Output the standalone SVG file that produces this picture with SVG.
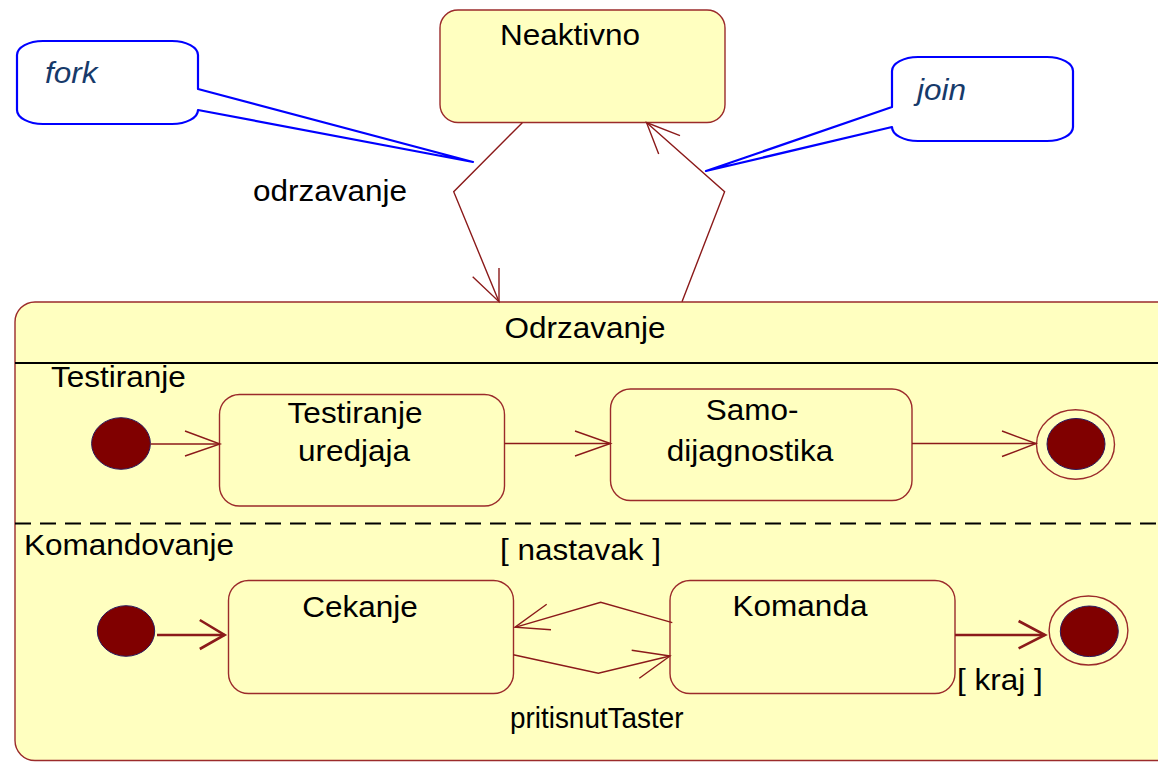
<svg xmlns="http://www.w3.org/2000/svg" width="1158" height="762" viewBox="0 0 1158 762">
<defs>
<style>
.state{fill:#FFFFC0;stroke:#9B2B2B;stroke-width:1.4}
.note{fill:#FFFFFF;stroke:#0000FF;stroke-width:2.2;stroke-linejoin:round}
.t{font-family:"Liberation Sans",Arial,sans-serif;font-size:30px;fill:#000}
.nt{font-family:"Liberation Sans",Arial,sans-serif;font-size:30px;font-style:italic;fill:#173A6A}
.c{fill:none;stroke:#8B1A1A;stroke-width:1.4}
.ck{fill:none;stroke:#8B1A1A;stroke-width:2.6}
.init{fill:#800000;stroke:#2A1A5E;stroke-width:1}
.ring{fill:none;stroke:#9B2B2B;stroke-width:1.4}
</style>
</defs>
<rect width="1158" height="762" fill="#FFFFFF"/>

<g id="Odrzavanje">
<rect class="state" x="15" y="302" width="1175" height="458.5" rx="20" ry="20"/>
<text class="t" transform="translate(585,338) scale(1.05,1)" text-anchor="middle">Odrzavanje</text>
<line x1="15" y1="363" x2="1158" y2="363" stroke="#000" stroke-width="2"/>
<line x1="15" y1="523.5" x2="1158" y2="523.5" stroke="#000" stroke-width="2" stroke-dasharray="16 9"/>
<text class="t" transform="translate(51,387) scale(1.05,1)">Testiranje</text>
<text class="t" transform="translate(24,555) scale(1.05,1)">Komandovanje</text>
</g>

<g id="Neaktivno">
<rect class="state" x="440" y="10" width="285" height="112.5" rx="18" ry="18"/>
<text class="t" transform="translate(570,44.5) scale(1.05,1)" text-anchor="middle">Neaktivno</text>
</g>

<g id="forkNote">
<path class="note" d="M43,41 H172 A26,14 0 0 1 198,55 V89 L473,162 L198,110 A26,14 0 0 1 172,124 H43 A26,14 0 0 1 17,110 V55 A26,14 0 0 1 43,41 Z"/>
<text class="nt" transform="translate(45,83) scale(1.05,1)">fork</text>
</g>

<g id="joinNote">
<path class="note" d="M918,57 H1047 A26,14 0 0 1 1073,71 V127 A26,14 0 0 1 1047,141 H918 A26,14 0 0 1 892,127 L706,171 L892,107 V71 A26,14 0 0 1 918,57 Z"/>
<text class="nt" transform="translate(917,100) scale(1.05,1)">join</text>
</g>

<g id="TestiranjeUredjaja">
<rect class="state" x="219.5" y="394.5" width="285" height="111.5" rx="20" ry="20"/>
<text class="t" transform="translate(355,423) scale(1.05,1)" text-anchor="middle">Testiranje</text>
<text class="t" transform="translate(354,461) scale(1.05,1)" text-anchor="middle">uredjaja</text>
</g>

<g id="Samodijagnostika">
<rect class="state" x="610.5" y="389" width="301.5" height="111.5" rx="20" ry="20"/>
<text class="t" transform="translate(752,420) scale(1.05,1)" text-anchor="middle">Samo-</text>
<text class="t" transform="translate(750,461) scale(1.05,1)" text-anchor="middle">dijagnostika</text>
</g>

<g id="Cekanje">
<rect class="state" x="228.5" y="580.5" width="285" height="113" rx="20" ry="20"/>
<text class="t" transform="translate(360,616.5) scale(1.05,1)" text-anchor="middle">Cekanje</text>
</g>

<g id="Komanda">
<rect class="state" x="670" y="580.5" width="285" height="113" rx="20" ry="20"/>
<text class="t" transform="translate(800,615.5) scale(1.05,1)" text-anchor="middle">Komanda</text>
</g>

<g id="init1"><ellipse class="init" cx="121" cy="443.5" rx="29.4" ry="25.8"/></g>
<g id="final1">
<ellipse class="ring" cx="1075.5" cy="444.5" rx="39" ry="34.7"/>
<ellipse class="init" cx="1076" cy="444" rx="29" ry="25.5"/>
</g>
<g id="init2"><ellipse class="init" cx="126" cy="631" rx="28.7" ry="25.3"/></g>
<g id="final2">
<ellipse class="ring" cx="1088.5" cy="630.5" rx="39.4" ry="34.5"/>
<ellipse class="init" cx="1089.3" cy="631.3" rx="29" ry="25.3"/>
</g>

<g id="connectors">
<polyline class="c" points="522.3,122.7 453.7,191.7 499,301.7"/>
<polyline class="c" points="472.7,276.7 499,301.7 499,268"/>
<polyline class="c" points="682,301.7 724.6,191.7 646.5,122.5"/>
<polyline class="c" points="680,135.7 646.5,122.5 658.7,154"/>
<line class="c" x1="150.6" y1="444" x2="220" y2="444"/>
<polyline class="c" points="185,431 220,444 185,456"/>
<line class="c" x1="504.5" y1="443.5" x2="610.5" y2="443.5"/>
<polyline class="c" points="575,431 610.5,443.5 575,456"/>
<line class="c" x1="912" y1="443.5" x2="1036" y2="443.5"/>
<polyline class="c" points="1002,431 1036,443.5 1002,456.5"/>
<line class="ck" x1="157" y1="635" x2="224.6" y2="635"/>
<polyline class="ck" points="199.8,620 224.6,635 199.8,649"/>
<polyline class="c" points="672.3,622.7 600.7,602.3 515,627.3"/>
<polyline class="c" points="546.7,604.3 515,627.3 551,629.7"/>
<polyline class="c" points="513.3,654.7 598.3,673.3 670,656"/>
<polyline class="c" points="631.7,650.3 670,656 639.3,678.3"/>
<line class="ck" x1="955" y1="635" x2="1045" y2="635"/>
<polyline class="ck" points="1018.6,621 1045,635 1018.6,648.3"/>
<text class="t" transform="translate(253,201) scale(1.05,1)">odrzavanje</text>
<text class="t" transform="translate(500,560) scale(1.05,1)">[ nastavak ]</text>
<text class="t" transform="translate(510,728) scale(0.93,1)">pritisnutTaster</text>
<text class="t" transform="translate(957,690) scale(1.05,1)">[ kraj ]</text>
</g>
</svg>
